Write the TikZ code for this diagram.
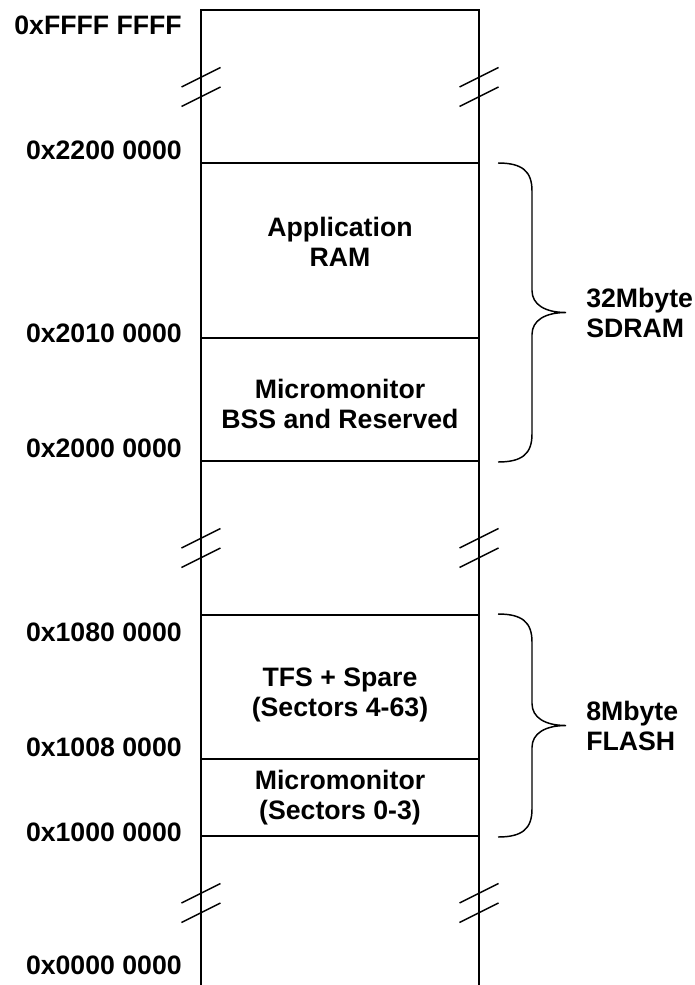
\documentclass[tikz,border=0pt]{standalone}
\usepackage{fontspec}
\setmainfont{Liberation Sans}
\usetikzlibrary{calc}
\newcommand{\mmfont}{\fontsize{20}{22.5}\selectfont\bfseries}
\tikzset{
 mm wall/.style={line width=1.3pt},
 mm break/.style={line width=1.1pt},
 mm brace/.style={line width=1.1pt},
 mm addr/.style={anchor=east,inner sep=0pt,font=\mmfont},
 mm region/.style={align=center,inner sep=0pt,font=\mmfont},
 mm size/.style={anchor=west,align=left,inner sep=0pt,font=\mmfont}
}
\begin{document}
\begin{tikzpicture}[x=.75pt,y=-.75pt]
 \useasboundingbox (0,0) rectangle (695,985);
 % outer walls, open at the bottom
 \coordinate (tl) at (201,10);
 \coordinate (tr) at (479,10);
 \coordinate (bl) at (201,990);
 \coordinate (br) at (479,990);
 \draw[mm wall] (bl)--(tl)--(tr)--(br);
 % region boundaries
 \foreach \n/\y in {a/163,b/338,c/461,d/615,e/759,f/836}{
   \coordinate (\n l) at (201,\y);
   \coordinate (\n r) at (479,\y);
   \draw[mm wall] (\n l)--(\n r);
 }
 % address labels
 \foreach \t/\y/\n in {0xFFFF FFFF/25/top,0x2200 0000/150/a,0x2010 0000/333/b,
     0x2000 0000/448/c,0x1080 0000/632/d,0x1008 0000/747/e,
     0x1000 0000/832/f,0x0000 0000/965/bot}{
   \node[mm addr] (addr\n) at (182,\y) {\t};
 }
 % break marks on both walls
 \foreach \ym in {87,548,903}{
   \foreach \x in {201,479}{
     \draw[mm break] ({\x-19.5},\ym) -- ++(39,-19.5);
     \draw[mm break] ({\x-19.5},{\ym+19.5}) -- ++(39,-19.5);
   }
 }
 % region contents
 \node[mm region] (appram) at (340,242) {Application\\RAM};
 \node[mm region] (umonbss) at (340,404) {Micromonitor\\BSS and Reserved};
 \node[mm region] (tfs) at (340,695) {TFS + Spare\\(Sectors 4-63)};
 \node[mm region] (umonflash) at (340,798) {Micromonitor\\(Sectors 0-3)};
 % size braces
 \foreach \ya/\yb/\n/\t in {163/462/sdram/32Mbyte\\SDRAM,614/837/flash/8Mbyte\\FLASH}{
   \pgfmathsetmacro{\ymid}{(\ya+\yb)/2}
   \draw[mm brace] (498,\ya) .. controls (522,\ya) and (532,{\ya+8}) .. (532,{\ya+28})
     -- (532,{\ymid-22}) .. controls (532,{\ymid-8}) and (545,\ymid) .. (566,\ymid)
     .. controls (545,\ymid) and (532,{\ymid+8}) .. (532,{\ymid+22})
     -- (532,{\yb-28}) .. controls (532,{\yb-8}) and (522,\yb) .. (498,\yb);
   \node[mm size] (\n) at (586,\ymid) {\t};
 }
\end{tikzpicture}
\end{document}
